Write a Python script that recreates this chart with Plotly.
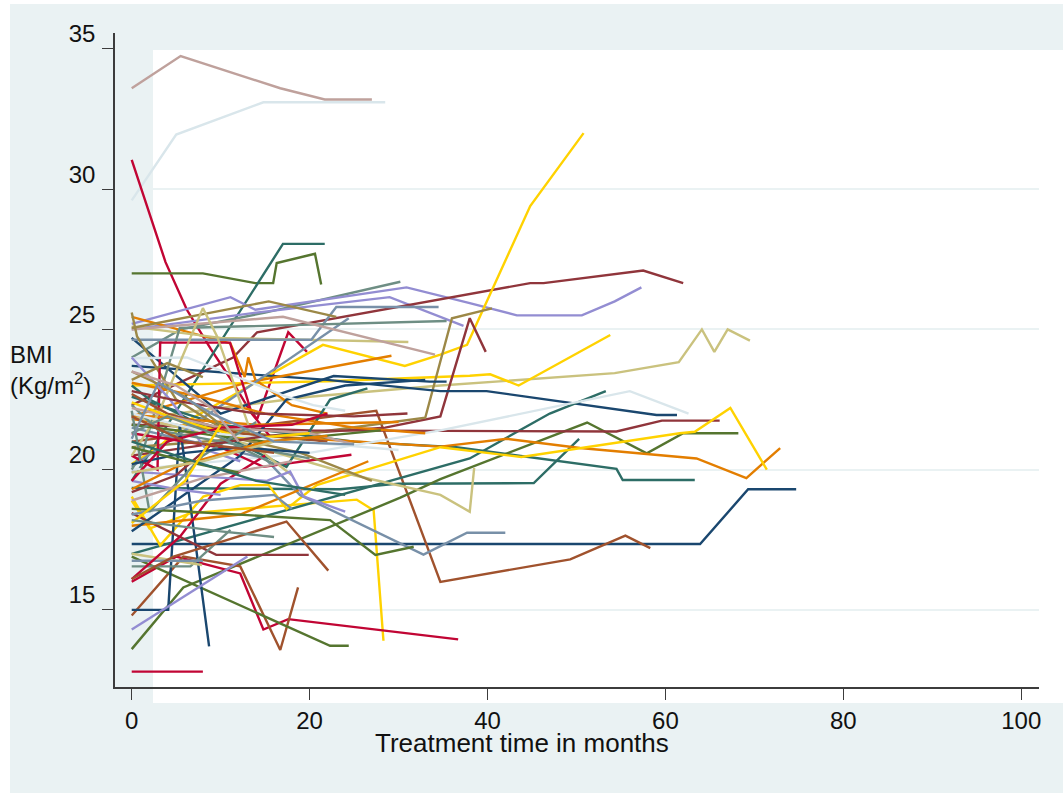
import plotly.graph_objects as go

# Stata s2color palette
palette = {
    "navy": "#1A476F", "maroon": "#90353B", "forest": "#55752F", "dkorange": "#E37E00",
    "teal": "#6E8E84", "cranberry": "#C10534", "lavender": "#938DD2", "khaki": "#CAC27E",
    "sienna": "#A0522D", "emidblue": "#7890A8", "emerald": "#2D6D66", "brown": "#9C8847",
    "erose": "#BFA19C", "gold": "#FFD200", "bluishgray": "#D9E6EB",
}

x_ticks = [0, 20, 40, 60, 80, 100]
y_ticks = [15, 20, 25, 30, 35]

# ---- per-patient trajectories: months on treatment, BMI (kg/m2) ----
m01 = [0, 5.5, 16.7, 21.7, 27];            b01 = [33.6, 34.75, 33.6, 33.2, 33.2]
m02 = [0, 5, 14.8, 28.5];                  b02 = [29.6, 31.95, 33.1, 33.1]
m03 = [0, 3.8, 6.2, 8.9, 11.4, 13, 14.1, 17.6, 19.7]; b03 = [31.05, 27.4, 25.7, 24.3, 23.1, 22.25, 21.8, 24.9, 24.2]
m04 = [0, 8, 13.9, 15.9, 16.3, 20.6, 21.3]; b04 = [27, 27, 26.65, 26.65, 27.37, 27.7, 26.6]
m05 = [0, 17, 21.7];                       b05 = [19.6, 28.05, 28.05]
m06 = [0, 5.5, 15, 30.2];                  b06 = [24.0, 25.0, 25.6, 26.7]
m07 = [0, 11.1, 13.9, 30.9, 38, 43.3, 50.6, 54.3, 57.3]; b07 = [25.2, 26.15, 25.7, 26.5, 25.94, 25.5, 25.5, 26.0, 26.5]
m08 = [0, 14, 29, 37.3];                   b08 = [25.0, 25.6, 26.15, 25.13]
m09 = [0, 11.4, 14.1, 38, 44.8, 46.3, 57.5, 62]; b09 = [22.3, 24.0, 24.9, 26.27, 26.65, 26.65, 27.1, 26.65]
m10 = [0, 3, 6.6, 21.5, 30.7, 34.7, 37.7, 44.8, 50.8]; b10 = [20.2, 20.8, 21.8, 24.45, 23.7, 24.1, 24.45, 29.4, 32.0]
m11 = [0, 20, 34.7, 54.3, 61.5, 64.1, 65.5, 67, 69.5]; b11 = [21.8, 22.6, 23.0, 23.44, 23.83, 25.0, 24.2, 25.0, 24.6]
m12 = [0, 22, 38, 40.3, 43.5, 53.8];       b12 = [23.0, 23.15, 23.35, 23.4, 23.0, 24.8]
m13 = [0, 2, 6.6, 25.3, 27.2, 28.3];       b13 = [18.9, 17.9, 18.45, 18.93, 18.55, 13.9]
m14 = [0, 63.9, 69.3, 74.7];               b14 = [17.35, 17.35, 19.3, 19.3]
m15 = [0, 15, 27.5, 34.7, 49.3, 55.5, 58.3]; b15 = [21.0, 21.6, 22.1, 16.0, 16.8, 17.65, 17.2]
m16 = [0, 15, 28.5, 34.7, 38, 39.8];       b16 = [20.5, 21.2, 21.5, 21.9, 25.4, 24.2]
m17 = [0, 20, 33, 36, 40.5];               b17 = [20.8, 21.3, 21.85, 25.4, 25.75]
m18 = [0, 22, 34.7, 39.9, 59, 61.3];       b18 = [23.7, 23.2, 22.8, 22.8, 21.95, 21.95]
m19 = [0, 10, 22.7, 33.5, 35.4];           b19 = [24.7, 22.0, 23.34, 23.14, 23.14]
m20 = [0, 23.4, 30, 45.2, 50.3];           b20 = [19.35, 19.3, 19.5, 19.52, 21.1]
m21 = [0, 38, 47, 53.3];                   b21 = [17.0, 20.4, 22.0, 22.8]
m22 = [0, 10, 25, 36.5, 54.5, 55.2, 63.3]; b22 = [22.6, 21.6, 21.0, 20.8, 20.03, 19.63, 19.63]
m23 = [0, 5.8, 30.2, 34.7, 51.2, 57.9, 62, 68.2]; b23 = [13.6, 15.8, 19.0, 19.66, 21.68, 20.58, 21.3, 21.3]
m24 = [0, 20, 54.5, 59.6, 66.1];           b24 = [21.6, 21.4, 21.36, 21.75, 21.75]
m25 = [0, 15, 34.7, 42.2, 50.4, 63.5, 69.1, 72.9]; b25 = [21.8, 21.2, 20.82, 21.1, 20.77, 20.4, 19.7, 20.77]
m26 = [0, 3.2, 8.05, 12.2, 15.4, 17.4, 20.8, 34.7, 43.8, 61.6, 63.3, 67.3, 71.4]
b26 = [19.04, 17.3, 19.04, 19.45, 19.45, 18.6, 19.45, 20.8, 20.45, 21.3, 21.35, 22.2, 20.0]
m27 = [0, 20, 34.7, 56, 62.6];             b27 = [20.0, 20.6, 21.4, 22.8, 22.0]
m28 = [0, 15, 18.9, 32.8, 37.7, 42];       b28 = [21.5, 20.4, 19.1, 16.97, 17.75, 17.75]
m29 = [0, 12, 25, 34.7, 38, 38.5];         b29 = [21.9, 21.0, 19.8, 19.1, 18.5, 20.06]
m30 = [0, 8];                              b30 = [12.8, 12.8]
m31 = [0, 5, 12.2, 14.8, 17.6, 36.7];      b31 = [16.0, 16.9, 16.3, 14.3, 14.67, 13.95]
m32 = [0, 5.8, 12.2, 16.7, 18.7];          b32 = [14.8, 16.9, 16.55, 13.57, 15.8]
m33 = [0, 22.3, 24.4];                     b33 = [16.9, 13.72, 13.72]
m34 = [0, 4.1, 5.4, 8.7];                  b34 = [15.0, 15.0, 21.6, 13.7]
m35 = [0, 11.1, 13];                       b35 = [14.3, 16.5, 16.9]
m36 = [0, 9.5, 19.9];                      b36 = [18.45, 16.96, 16.96]
m37 = [0, 6.6, 11.1];                      b37 = [16.55, 16.55, 17.85]
m38 = [0, 7.9];                            b38 = [17.0, 16.6]
m39 = [0, 8];                              b39 = [16.75, 16.75]
m40 = [0, 12.2, 26.6];                     b40 = [18.0, 18.4, 20.3]
m41 = [0, 11.1, 12.7, 13.1, 13.9, 18, 22]; b41 = [25.45, 24.5, 23.3, 24.0, 23.2, 22.3, 22.0]
m42 = [0, 12.9, 29.2];                     b42 = [21.9, 23.1, 24.06]
m43 = [0, 10, 31.1];                       b43 = [25.1, 24.7, 24.55]
m44 = [0, 20.2, 23, 34.5];                 b44 = [24.63, 24.63, 25.8, 25.8]
m45 = [0, 11, 24.4];                       b45 = [20.1, 22.5, 25.4]
m46 = [0, 1.3, 5.4, 35.4];                 b46 = [20.0, 20.7, 25.05, 25.3]
m47 = [0, 17, 34.1];                       b47 = [25.0, 25.45, 24.1]
m48 = [0, 15.4, 23];                       b48 = [25.05, 26.0, 25.45]
m49 = [0, 0.6, 5, 10, 20];                 b49 = [25.6, 24.75, 22.5, 21.5, 21.0]
m50 = [0, 2.9, 3.2, 11.05, 13.5, 16];      b50 = [20.5, 20.0, 24.53, 24.53, 22.0, 21.0]
m51 = [0, 10, 14.8, 24.7];                 b51 = [21.3, 20.8, 20.1, 20.53]
m52 = [0, 12.2, 17.4, 24, 33];             b52 = [17.8, 20.5, 22.5, 23.0, 23.2]
m53 = [0, 2, 17.4, 22.3, 26.5];            b53 = [23.0, 22.5, 20.1, 22.5, 22.9]
m54 = [0, 6.2, 10.3, 17.4, 20.4, 24];      b54 = [23.97, 24.0, 23.5, 22.6, 22.3, 22.1]
m55 = [0, 7.7, 15, 25, 33];                b55 = [23.1, 22.6, 22.0, 21.5, 21.3]
m56 = [0, 14, 30];                         b56 = [21.95, 21.6, 21.7]
m57 = [0, 3, 8, 9.6, 14, 18];              b57 = [20.5, 22.0, 25.76, 24.75, 20.8, 19.8]
m58 = [0, 5.4, 10, 15];                    b58 = [16.1, 17.6, 19.5, 20.5]
m59 = [0, 6.6, 22.3, 27.4, 31.7];          b59 = [18.6, 18.5, 18.2, 16.96, 17.25]
m60 = [0, 4.7, 17.4, 22.1];                b60 = [16.1, 16.9, 18.15, 16.4]
m61 = [0, 8, 16, 18];                      b61 = [18.4, 18.9, 19.1, 18.6]
m62 = [0, 4.3, 8.4, 12.2];                 b62 = [24.0, 22.5, 20.7, 20.3]
m63 = [0, 15.2, 17.8, 19.3, 24];           b63 = [19.93, 19.6, 19.93, 19.05, 18.5]
m64 = [0, 3, 10, 20];                      b64 = [22.3, 21.4, 21.0, 20.4]
m65 = [0, 6, 14, 25, 31];                  b65 = [22.8, 22.4, 22.0, 21.9, 22.0]
m66 = [0, 4, 12, 22];                      b66 = [22.7, 22.0, 21.3, 21.0]
m67 = [0, 10, 20, 25];                     b67 = [22.2, 21.5, 21.3, 20.9]
m68 = [0, 5, 15, 28];                      b68 = [21.6, 21.4, 21.0, 21.4]
m69 = [0, 6, 12, 19, 27];                  b69 = [23.5, 22.6, 21.1, 20.6, 19.6]
m70 = [0, 5, 13, 20];                      b70 = [22.4, 21.8, 21.1, 21.3]
m71 = [0, 9, 19, 30];                      b71 = [22.0, 21.3, 21.0, 20.7]
m72 = [0, 2, 8, 14];                       b72 = [22.1, 18.5, 20.5, 21.7]
m73 = [0, 5, 9, 15];                       b73 = [19.2, 19.8, 20.9, 21.2]
m74 = [0, 5, 10];                          b74 = [19.6, 19.3, 19.1]
m75 = [0, 6, 12, 20];                      b75 = [20.2, 20.6, 20.8, 20.6]
m76 = [0, 8, 18];                          b76 = [18.9, 19.7, 20.3]
m77 = [0, 6, 12];                          b77 = [20.8, 20.3, 19.9]
m78 = [0, 4, 10, 18, 22];                  b78 = [19.6, 21.0, 21.5, 21.6, 22.0]
m79 = [0, 5, 15, 22];                      b79 = [19.3, 20.1, 21.0, 21.2]
m80 = [0, 8, 16];                          b80 = [19.9, 20.3, 21.0]
m81 = [0, 5, 14, 24];                      b81 = [21.0, 20.5, 19.6, 19.1]
m82 = [0, 4, 9, 16];                       b82 = [21.3, 21.9, 21.3, 20.2]
m83 = [0, 6, 10];                          b83 = [18.1, 19.6, 21.6]
m84 = [0, 6, 16];                          b84 = [21.9, 21.0, 20.6]
m85 = [0, 5, 9, 12];                       b85 = [23.5, 23.0, 22.2, 21.0]
m86 = [0, 4, 8];                           b86 = [23.2, 23.8, 23.3]
m87 = [0, 3, 9, 16, 25];                   b87 = [21.1, 23.1, 22.0, 21.0, 20.9]
m88 = [0, 10, 16];                         b88 = [18.2, 17.8, 17.6]

series = [
    (m01, b01, "erose"), (m02, b02, "bluishgray"), (m03, b03, "cranberry"), (m04, b04, "forest"),
    (m05, b05, "emerald"), (m06, b06, "teal"), (m07, b07, "lavender"), (m08, b08, "lavender"),
    (m09, b09, "maroon"), (m10, b10, "gold"), (m11, b11, "khaki"), (m12, b12, "gold"),
    (m13, b13, "gold"), (m14, b14, "navy"), (m15, b15, "sienna"), (m16, b16, "maroon"),
    (m17, b17, "brown"), (m18, b18, "navy"), (m19, b19, "navy"), (m20, b20, "emerald"),
    (m21, b21, "emerald"), (m22, b22, "emerald"), (m23, b23, "forest"), (m24, b24, "maroon"),
    (m25, b25, "dkorange"), (m26, b26, "gold"), (m27, b27, "bluishgray"), (m28, b28, "emidblue"),
    (m29, b29, "khaki"), (m30, b30, "cranberry"), (m31, b31, "cranberry"), (m32, b32, "sienna"),
    (m33, b33, "forest"), (m34, b34, "navy"), (m35, b35, "lavender"), (m36, b36, "maroon"),
    (m37, b37, "teal"), (m38, b38, "khaki"), (m39, b39, "emidblue"), (m40, b40, "dkorange"),
    (m41, b41, "dkorange"), (m42, b42, "dkorange"), (m43, b43, "khaki"), (m44, b44, "emidblue"),
    (m45, b45, "emidblue"), (m46, b46, "teal"), (m47, b47, "erose"), (m48, b48, "brown"),
    (m49, b49, "brown"), (m50, b50, "cranberry"), (m51, b51, "cranberry"), (m52, b52, "navy"),
    (m53, b53, "emerald"), (m54, b54, "bluishgray"), (m55, b55, "dkorange"), (m56, b56, "dkorange"),
    (m57, b57, "khaki"), (m58, b58, "cranberry"), (m59, b59, "forest"), (m60, b60, "sienna"),
    (m61, b61, "emidblue"), (m62, b62, "lavender"), (m63, b63, "lavender"), (m64, b64, "teal"),
    (m65, b65, "maroon"), (m66, b66, "sienna"), (m67, b67, "erose"), (m68, b68, "forest"),
    (m69, b69, "brown"), (m70, b70, "gold"), (m71, b71, "bluishgray"), (m72, b72, "teal"),
    (m73, b73, "maroon"), (m74, b74, "lavender"), (m75, b75, "navy"), (m76, b76, "erose"),
    (m77, b77, "forest"), (m78, b78, "cranberry"), (m79, b79, "dkorange"), (m80, b80, "khaki"),
    (m81, b81, "emerald"), (m82, b82, "teal"), (m83, b83, "gold"), (m84, b84, "sienna"),
    (m85, b85, "erose"), (m86, b86, "brown"), (m87, b87, "emidblue"), (m88, b88, "teal"),
]

fig = go.Figure()
for months, bmi, cname in series:
    fig.add_trace(go.Scatter(x=months, y=bmi, mode="lines",
                             line=dict(color=palette[cname], width=2.4),
                             showlegend=False, hoverinfo="skip"))

W, H = 1063, 793
L, R, T, B = 115, 24, 33, 106
pw, ph = W - L - R, H - T - B


def px_x(p):
    return (p - L) / pw


def px_y(p):
    return (H - B - p) / ph


BG = "#EAF2F3"
AX = "#3c3c3c"
FONT = "Liberation Sans, Arial, sans-serif"

fig.update_layout(
    width=W, height=H,
    margin=dict(l=L, r=R, t=T, b=B),
    paper_bgcolor="white",
    plot_bgcolor="rgba(0,0,0,0)",
    font=dict(family=FONT, color="#111111", size=24),
    shapes=[
        dict(type="rect", xref="paper", yref="paper", layer="below",
             x0=px_x(10), x1=px_x(1075), y0=px_y(805), y1=px_y(4),
             fillcolor=BG, line=dict(width=0)),
        dict(type="rect", xref="paper", yref="paper", layer="below",
             x0=px_x(153), x1=px_x(1075), y0=px_y(703), y1=px_y(50),
             fillcolor="white", line=dict(width=0)),
    ],
    xaxis=dict(range=[-1.88, 102.0], tickvals=x_ticks, ticktext=[str(v) for v in x_ticks],
               showgrid=False, zeroline=False, showline=True, linecolor=AX, linewidth=1.5,
               ticks="outside", ticklen=11, tickwidth=1.3, tickcolor=AX,
               tickfont=dict(size=24, family=FONT, color="#111111"), ticklabelstandoff=0),
    yaxis=dict(range=[12.25, 35.57], tickvals=y_ticks, ticktext=[str(v) for v in y_ticks],
               showgrid=True, gridcolor=BG, gridwidth=1.5, zeroline=False,
               showline=True, linecolor=AX, linewidth=1.5,
               ticks="outside", ticklen=11, tickwidth=1.3, tickcolor=AX,
               tickfont=dict(size=24, family=FONT, color="#111111"),
               ticklabelshift=-15, ticklabelstandoff=2),
    annotations=[
        dict(text="Treatment time in months", xref="paper", yref="paper",
             x=px_x(522), y=px_y(743), xanchor="center", yanchor="middle",
             showarrow=False, font=dict(size=26, family=FONT, color="#111111")),
        dict(text="BMI<br>(Kg/m<sup>2</sup>)", xref="paper", yref="paper",
             x=px_x(8), y=px_y(370), xanchor="left", yanchor="middle", align="left",
             showarrow=False, font=dict(size=24, family=FONT, color="#111111")),
    ],
)

fig.write_html("out.html", config={"displayModeBar": False},
               post_script="document.body.style.margin='0';document.body.style.padding='0';")
